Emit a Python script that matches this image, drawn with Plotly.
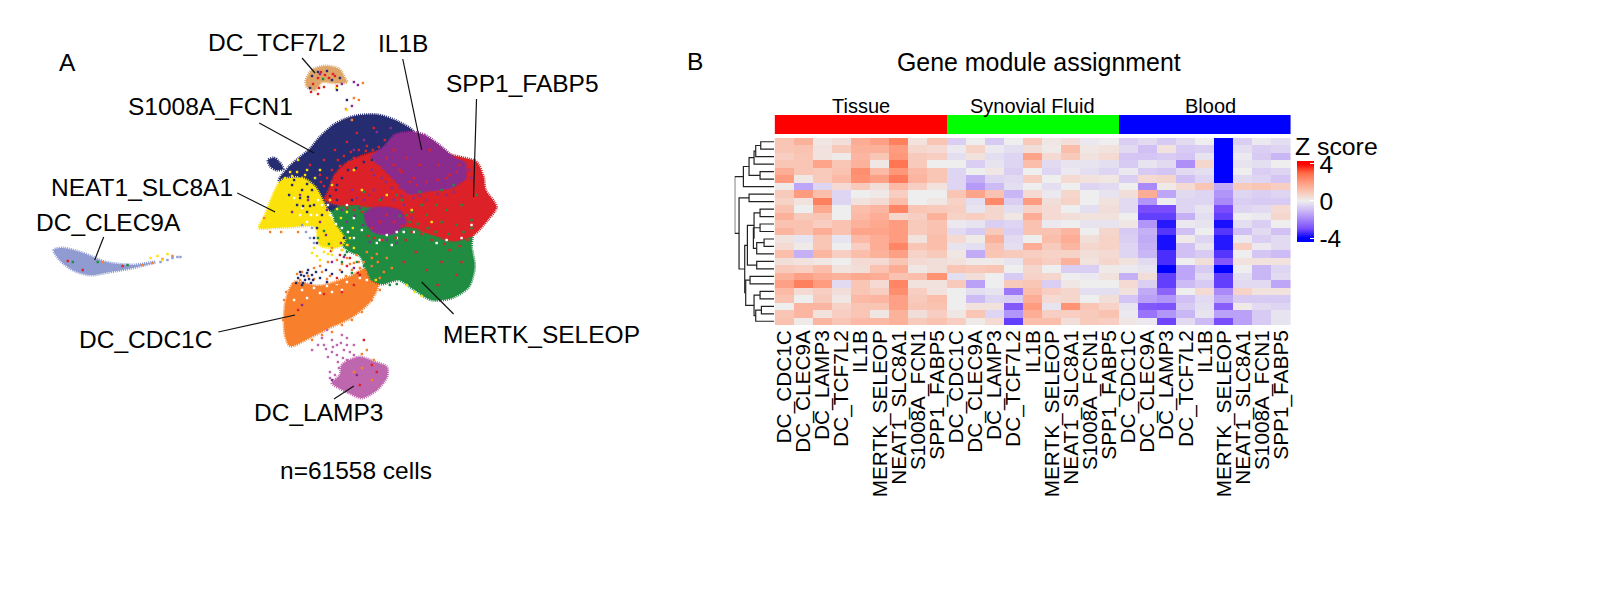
import plotly.graph_objects as go

FONT = "Liberation Sans"

# ---------- panel A: outlines of the cell clouds ----------
navy_c, purple_c, red_c, green_c = "#262C70", "#8A2C8E", "#DC2228", "#1F8C42"
yellow_c, orange_c, pink_c, lblue_c, tan_c = "#FBE20A", "#F8802D", "#BE66AE", "#8F9BD1", "#DFA567"

outline_navy = [(277,181),(287,167),(297,158),(307,150),(318,137),(333,124),(353,116),(377,115),(397,122),(412,132),(415,150),(380,170),(360,180),(345,195),(330,210),(312,205),(295,190)]
outline_navy2 = [(266,160),(272,158),(277,162),(281,169),(274,170),(268,166)]
outline_purple = [(410,132),(423,135),(440,147),(453,158),(463,163),(464,178),(450,187),(430,190),(407,193),(393,180),(380,167),(370,157),(382,147),(393,135)]
outline_red = [(327,190),(333,175),(345,163),(363,155),(385,150),(420,150),(463,158),(475,162),(482,177),(484,190),(495,207),(486,220),(473,234),(453,241),(437,237),(417,229),(397,224),(393,210),(373,208),(357,205),(337,205),(323,200)]
outline_purple2 = [(363,213),(373,208),(383,207),(397,210),(404,222),(392,233),(373,232),(365,224)]
outline_green = [(322,198),(350,195),(400,205),(470,220),(470,247),(473,267),(467,287),(450,298),(430,300),(413,290),(397,280),(380,284),(370,280),(364,268),(358,256),(347,251),(333,236),(332,217)]
outline_yellow = [(280,180),(300,178),(313,187),(322,203),(332,223),(343,240),(337,247),(318,245),(313,227),(290,227),(270,228),(257,228),(263,215),(273,190)]
outline_orange = [(293,282),(317,286),(347,277),(370,266),(378,277),(375,290),(367,303),(350,317),(327,328),(307,338),(288,346),(283,335),(282,320),(283,305),(287,290)]
outline_pink = [(330,383),(338,375),(340,365),(357,357),(373,362),(385,367),(385,377),(375,390),(360,398),(347,393),(337,388)]
outline_lblue = [(51,250),(60,248),(80,253),(103,262),(130,265),(153,262),(130,268),(107,272),(87,275),(70,270),(57,260)]
outline_tan = [(304,80),(310,70),(323,66),(337,69),(343,78),(345,82),(333,83),(320,82),(313,90),(305,87)]

# stray cells, by colour
specks_red = [(322,160),(333,150),(345,142),(355,133),(365,146),(352,158),(340,172),(330,182),(318,175),(308,165),(372,128),(383,140),(392,150),(428,150),(437,165),(445,178),(418,165),(405,158),(412,178),(398,170),(385,215),(392,222),(378,222),(370,228),(440,262),(455,275),(425,270),(436,285),(448,250),(460,262),(414,252),(402,262),(319,72),(323,75),(316,78),(327,78),(333,76),(311,84),(317,88),(322,87),(335,86),(309,92),(316,94),(331,74),(362,340),(370,365),(375,372),(358,385),(296,310),(340,292),(322,294),(352,285),(335,278),(358,275),(356,273),(345,266),(348,258),(329,251),(338,255),(80,270),(65,261),(120,266),
 (336,160),(342,156),(349,152),(357,150),(364,151),(371,150),(377,147),(330,170),(325,178),(338,166),(347,162),(322,186),(319,182),(344,175),(352,165),(385,158),(392,165),(400,172),(408,182),(415,185),(425,182),(436,180),(448,175),(455,172),(458,165),(382,190),(360,212),(352,210),(345,208),(400,226),(410,232),(420,234),(430,240),(443,244),(458,246),(466,240),(404,240),(394,238),(372,238),(380,240),(366,236)]
specks_purple = [(352,150),(362,140),(375,132),(389,128),(370,170),(384,182),(400,196),(412,198),(425,200),(445,195),(362,200),(372,190),(350,190),(340,210),(345,222),(325,210),(306,200),(298,195),(290,212),(318,222),(324,235),(342,257),(352,268),(330,262),(318,74),(340,84),(352,82),(356,85),(350,106),(300,305),(330,380),(355,375),(339,243),(368,242),(385,240),(395,243),
 (376,155),(385,160),(372,175),(380,178),(390,188),(398,188),(418,196),(436,194),(452,192),(468,170),(470,178),(355,198),(367,195),(380,198),(392,200),(402,205),(410,218),(358,208),(353,216),(361,225)]
specks_green = [(410,212),(425,215),(440,222),(455,225),(470,220),(435,205),(420,205),(400,200),(395,195),(378,200),(362,192),(445,210),(460,205),(475,195),(452,185),(440,190),(418,192),(384,244),(372,255),(362,258),(352,243),(345,252),(322,231),(316,238),(327,244),(340,262),(350,273),(368,262),(321,79),(95,262),(70,262),(125,265),
 (408,222),(416,224),(426,228),(434,232),(447,234),(462,232),(470,228),(405,215),(398,216),(378,258),(385,268),(392,272),(395,262),(343,255),(355,262),(362,266),(372,265),(380,280),(388,285),(395,284)]
specks_yellow = [(288,172),(296,160),(305,170),(318,170),(330,185),(352,170),(360,190),(385,195),(410,210),(430,222),(345,212),(336,230),(351,228),(312,248),(310,253),(315,256),(318,260),(322,252),(330,255),(413,292),(420,296),(405,285),(374,280),(334,88),(345,110),(148,258),(155,256),(165,254),(160,260),
 (290,176),(283,178),(295,172),(303,175),(313,178),(348,238),(345,245),(340,250),(330,250),(326,254),(352,248),(335,209),(328,200),(339,218)]
specks_navy = [(290,185),(300,190),(306,197),(295,205),(287,195),(305,212),(312,205),(320,215),(315,228),(298,272),(302,276),(306,270),(310,275),(296,278),(303,280),(314,272),(318,278),(324,270),(330,274),(309,283),(300,285),(325,282),(340,272),(310,76),(316,72),(325,71),(330,80),(308,88),(335,90),(345,100),(338,78),(350,200),(335,200),(342,238),(315,243),(312,238),
 (340,178),(346,170),(354,168),(362,162),(370,160),(334,190),(328,196),(335,185),(292,180),(298,176),(305,184),(310,190),(298,198),(301,206),(308,206),(299,275),(305,273),(301,283),(307,279),(294,283),(311,280)]
specks_orange = [(300,272),(306,276),(295,274),(312,268),(318,266),(326,262),(335,260),(345,258),(355,255),(365,252),(375,254),(385,258),(390,268),(382,272),(378,278),(378,290),(370,300),(360,312),(350,320),(340,325),(330,332),(320,335),(310,340),(281,320),(282,300),(284,292),(360,354),(365,350),(372,360),(360,368),(370,380),(352,372),(150,263),(160,259),(140,265),(170,256),(100,262),(340,250),(330,248),(346,245),(352,263),(262,218),(268,232),(279,232),(296,232),(352,98),(357,100),(344,109),(350,120),(361,83),
 (320,272),(328,276),(338,270),(344,276),(350,270),(358,268),(364,272),(370,266),(376,262),(370,258),(362,262),(355,275),(312,279),(306,285),(298,280),(291,284),(335,283),(325,279),(357,262),(348,264),(340,264)]
specks_pink = [(325,330),(330,340),(335,345),(340,335),(345,338),(352,345),(342,350),(330,352),(322,345),(326,357),(345,360),(337,368),(333,375),(328,372),(316,345),(310,350),(320,338),(352,355),(348,352),(345,345),
 (336,362),(341,358),(335,355),(331,347),(339,343),(324,349),(348,363),(343,372),(335,381),(328,378)]
specks_lblue = [(170,258),(175,257),(178,257),(165,260),(158,262),(300,225),(308,238),(312,243),(304,232),(310,228)]
specks_white = [(300,290),(312,288),(325,286),(335,284),(345,282),(318,293),(330,292),(340,290),(358,278),(365,280),(292,300),(305,298),(395,232),(385,235),(378,240),(390,245),(412,232),(360,230),(352,218),(345,205),(320,205),(300,208),(292,198),(305,222),(315,215),(470,225),(460,238),(445,240),(435,243),
 (328,215),(334,224),(326,205),(316,200),(309,215),(298,215),(340,228),(346,232),(395,238),(402,232),(375,243),(352,238)]

labels_a = ["A","DC_TCF7L2","IL1B","SPP1_FABP5","S1008A_FCN1","NEAT1_SLC8A1","DC_CLEC9A","DC_CDC1C","MERTK_SELEOP","DC_LAMP3","n=61558 cells"]
labels_a_x = [65,275,401,521,208,139,106,143,540,316,354]
labels_a_y = [62,42,43,83,106,187,222,339,334,412,470]
leaders = [((300,58),(313,73)),((401,59),(420,150)),((475,99),(472,197)),((257,123),(312,153)),((235,193),(273,212)),((101,237),(92,260)),((216,332),(293,315)),((420,282),(452,314)),((332,399),(352,386))]

# ---------- panel B ----------
genes = ["DC_CDC1C","DC_CLEC9A","DC_LAMP3","DC_TCF7L2","IL1B","MERTK_SELEOP","NEAT1_SLC8A1","S1008A_FCN1","SPP1_FABP5"]
groups = ["Tissue","Synovial Fluid","Blood"]
group_label_x = [4, 13, 22.3]
group_colors = ["#FF0000","#00FF00","#0000FF"]

z_tissue = [
 [1.0,1.5,0.2,0.4,1.6,1.9,2.6,0.3,1.0],[1.0,1.1,0.3,0.9,1.5,1.5,2.0,0.6,0.5],[0.8,1.0,0.3,0.1,1.4,1.0,2.1,0.9,0.8],
 [1.0,1.0,1.8,1.0,1.5,0.2,2.8,0.9,0.0],[1.6,1.0,0.9,1.1,2.3,1.3,2.1,1.3,1.0],[2.0,0.2,0.9,1.3,2.2,1.9,2.7,1.4,1.0],
 [0.1,-1.4,-0.5,0.5,0.9,0.4,1.3,0.8,0.3],[0.9,2.0,1.2,-0.5,0.0,0.1,0.8,0.0,0.0],[0.7,0.3,2.6,-0.5,0.3,0.5,1.2,0.0,0.2],
 [1.1,0.0,1.7,0.0,1.2,1.4,2.5,1.0,0.9],[1.5,0.9,1.0,0.0,1.3,1.6,0.6,0.8,1.5],[1.1,1.1,0.8,1.1,1.5,1.7,2.0,0.9,1.1],
 [1.4,1.1,1.6,1.1,1.8,1.8,2.0,0.9,1.1],[0.3,-0.2,1.0,-0.2,1.3,1.6,2.0,0.3,1.2],[0.5,0.1,1.0,0.0,0.8,1.6,2.5,1.0,1.2],
 [1.2,-1.2,1.4,0.8,1.2,1.5,1.9,0.7,0.9],[0.4,0.3,0.2,0.0,0.5,0.5,1.0,0.5,0.4],[0.9,0.8,1.2,0.3,0.4,1.1,1.6,0.2,0.4],
 [1.5,1.9,1.6,1.5,1.7,1.6,1.1,1.2,2.2],[1.9,2.6,2.0,-0.4,1.0,0.5,2.5,0.3,0.3],[1.3,0.5,0.8,0.4,1.0,0.8,2.3,0.8,0.3],
 [1.1,0.0,0.9,0.2,1.3,1.4,1.9,0.9,1.2],[0.0,1.4,1.4,0.7,1.0,1.0,1.9,1.0,1.1],[1.0,1.4,0.3,0.8,1.0,0.2,1.5,0.4,0.8],
 [1.1,0.1,1.4,1.0,1.3,1.3,1.5,0.9,1.1]]
z_synovial = [
 [-0.6,0.0,-0.7,0.0,0.9,0.2,0.4,-0.1,0.0],[-0.1,0.7,-0.1,-0.3,0.4,0.1,1.2,0.2,0.3],[-0.3,0.3,-0.3,-0.5,1.8,0.5,0.9,0.3,0.5],
 [0.0,-0.6,-0.2,-0.5,1.2,-0.4,-0.2,-0.2,-0.3],[-0.5,0.0,0.2,-0.6,0.0,-0.5,-0.1,-0.3,-0.5],[-0.5,-1.2,-0.5,-0.4,0.8,0.0,0.5,0.3,0.2],
 [-0.5,-1.6,-1.0,-0.3,0.0,-0.3,0.0,-0.5,-0.4],[1.0,1.8,1.1,-1.1,0.5,-0.1,0.6,0.0,-0.2],[0.7,-0.3,2.4,-0.6,2.0,0.4,0.7,0.0,0.3],
 [0.8,-0.2,0.6,-0.3,0.7,0.5,0.0,-0.3,0.4],[0.7,0.8,0.6,0.2,1.6,0.5,0.4,0.3,0.3],[-0.1,-0.2,-0.6,-0.5,1.1,-0.1,0.0,-0.2,-0.2],
 [-0.4,-0.7,0.9,-0.6,1.1,1.1,1.4,0.0,0.6],[0.5,0.1,1.5,-0.4,0.0,1.2,1.6,0.4,0.7],[-0.2,-0.3,1.1,-0.3,1.6,0.9,1.4,0.6,0.7],
 [0.2,-1.3,1.0,0.9,0.8,0.7,0.7,0.4,0.5],[0.3,0.1,0.1,-0.2,1.0,0.8,1.5,0.3,0.6],[1.0,0.9,1.0,0.0,0.6,0.0,-0.6,-0.6,0.1],
 [-0.3,0.4,0.0,-0.7,0.7,0.6,0.0,-0.1,0.3],[0.9,-1.5,0.0,0.9,1.0,-0.6,0.2,0.0,0.0],[0.0,-0.3,-0.2,-2.2,1.2,0.8,0.6,-0.3,-0.3],
 [0.0,-1.0,-0.5,-0.6,1.6,0.5,0.6,0.0,0.4],[0.0,0.3,0.3,-2.8,2.0,-0.2,2.2,1.0,0.7],[0.2,1.0,-0.5,-1.7,1.6,0.8,0.8,0.9,1.1],
 [0.8,0.1,0.5,-3.2,1.2,1.2,0.4,0.9,0.8]]
z_blood = [
 [-0.6,-0.4,-0.7,-0.4,0.0,-4.0,-0.6,-0.1,-0.3],[-0.4,-0.9,0.3,-0.7,-0.6,-4.0,-0.3,-0.6,-0.5],[-0.8,-0.8,-0.7,-0.8,-0.2,-4.0,-0.1,-0.7,-1.1],
 [-0.7,-0.2,-0.4,-1.8,0.6,-4.0,-0.2,-0.3,0.0],[-0.1,-0.7,-0.8,-0.4,-0.3,-4.0,0.0,-0.6,-0.5],[-0.6,0.5,0.6,-0.9,-0.5,-4.0,-0.4,-0.5,-0.8],
 [0.0,-1.9,0.1,0.5,1.0,-1.3,0.9,1.0,0.8],[0.4,1.6,-1.4,-0.4,-0.5,-1.7,-0.5,-0.6,-0.5],[-0.4,-1.7,0.0,-0.5,-0.5,-1.9,-0.6,-0.7,-0.7],
 [-0.4,-3.0,-3.0,-0.5,-0.2,-3.0,-0.5,-0.4,0.5],[0.0,-3.2,-3.2,-1.2,-0.3,-3.2,0.0,-0.1,0.6],[0.2,-1.7,-3.7,-0.1,-0.2,-3.8,-0.3,-0.6,0.0],
 [-0.7,-1.2,-3.3,-0.9,0.0,-3.3,-0.9,-0.4,-0.9],[-0.6,-1.3,-3.8,0.1,-0.5,-3.7,-0.1,-0.6,-0.4],[-0.5,-1.2,-3.8,-0.9,-0.2,-3.7,0.8,-0.1,-0.4],
 [-0.5,-1.1,-3.4,-0.9,-0.7,-3.3,0.0,-0.8,-1.0],[0.3,-0.4,-3.4,0.0,0.4,-2.8,0.3,0.3,0.3],[-0.1,-0.2,-4.0,-1.4,-0.7,-4.0,0.0,-1.1,-0.5],
 [-1.2,0.4,-3.2,-1.4,-0.4,-3.2,-0.3,-1.1,-0.4],[0.5,-0.6,-3.2,-1.0,-0.7,-3.2,-0.4,-0.4,-1.4],[0.3,-1.3,-2.6,0.0,0.5,-1.9,0.7,0.3,0.3],
 [-0.8,-1.5,-1.7,-0.9,-0.4,-1.4,-0.7,-0.7,-0.7],[-0.2,-2.8,-2.9,-0.7,-0.3,-2.7,0.1,-0.4,-0.5],[-0.1,-2.3,-1.7,-1.1,-0.2,-1.5,-1.5,-0.7,-0.2],
 [0.2,-0.1,-3.1,-0.4,-1.0,-3.0,-1.5,-0.7,-0.2]]

# dendrogram: (merge height, child, child); integers are leaf rows
tree = (118,
  (92, (75, (60, (55, (40, 0, 1), 2), 3), (42, 4, 5)), 6),
  (105, (75, 7, 8),
    (88,
      (80, (60, (42, 9, 10), (62, (42, 11, 12), (52, (30, 13, 14), 15))), (52, 16, 17)),
      (85, (72, 18, 19), (60, (42, 20, 21), (55, (38, 22, 23), 24))))))

scale_z = [-4, -3, -2, -1, 0, 1, 2, 3, 4]
scale_col = ["#0000FF", "#7A4DFC", "#A684F9", "#CDBBF5", "#EEEEEE", "#F9C6B6", "#FF9C7F", "#FF6D48", "#FF0000"]
cbar_min, cbar_max = -4.43, 4.32

# ---------- figure ----------
fig = go.Figure()

def poly(pts, col):
    xs = [p[0] for p in pts] + [pts[0][0]]
    ys = [p[1] for p in pts] + [pts[0][1]]
    fig.add_trace(go.Scatter(x=xs, y=ys, mode="lines", fill="toself", fillcolor=col,
                             line=dict(color=col, width=3, dash="1px,1px", shape="spline", smoothing=0.8),
                             hoverinfo="skip", showlegend=False))

for pts, col in [(outline_lblue, lblue_c), (outline_tan, tan_c), (outline_pink, pink_c), (outline_orange, orange_c),
                 (outline_green, green_c), (outline_navy, navy_c), (outline_red, red_c), (outline_purple, purple_c),
                 (outline_navy2, navy_c), (outline_purple2, purple_c), (outline_yellow, yellow_c)]:
    poly(pts, col)

for pts, col in [(specks_white, "#FFFFFF"), (specks_orange, orange_c), (specks_pink, pink_c), (specks_lblue, lblue_c),
                 (specks_green, green_c), (specks_purple, purple_c), (specks_red, red_c),
                 (specks_yellow, yellow_c), (specks_navy, navy_c)]:
    fig.add_trace(go.Scatter(x=[p[0] for p in pts], y=[p[1] for p in pts], mode="markers",
                             marker=dict(color=col, size=2.4, symbol="square", line=dict(width=0)),
                             hoverinfo="skip", showlegend=False))

lx, ly = [], []
for a, b in leaders:
    lx += [a[0], b[0], None]
    ly += [a[1], b[1], None]
fig.add_trace(go.Scatter(x=lx, y=ly, mode="lines", line=dict(color="#111111", width=1.2),
                         hoverinfo="skip", showlegend=False))

# heatmap
z_all = [t + s + b for t, s, b in zip(z_tissue, z_synovial, z_blood)]
span = cbar_max - cbar_min
stops = [[0, scale_col[0]]] + [[(v - cbar_min) / span, c] for v, c in zip(scale_z, scale_col)] + [[1, scale_col[-1]]]
fig.add_trace(go.Heatmap(z=z_all, x=list(range(27)), y=list(range(25)), xaxis="x2", yaxis="y2",
    zmin=cbar_min, zmax=cbar_max, colorscale=stops, hoverinfo="skip",
    colorbar=dict(x=1298/1600, xanchor="left", y=(600-161)/600, yanchor="top", len=81/600, lenmode="fraction",
                  thickness=17, thicknessmode="pixels", outlinewidth=0, xpad=0, ypad=0,
                  tickvals=[4, 0, -4], ticktext=["4", "0", "-4"], ticks="inside", ticklen=4, tickcolor="#FFFFFF",
                  tickfont=dict(family=FONT, size=24.5, color="#000000"))))

# group annotation bar
fig.add_trace(go.Heatmap(z=[[0]*9 + [1]*9 + [2]*9], x=list(range(27)), y=[0], xaxis="x3", yaxis="y3",
    zmin=0, zmax=2, showscale=False, hoverinfo="skip",
    colorscale=[[0, group_colors[0]], [0.33, group_colors[0]], [0.33, group_colors[1]],
                [0.66, group_colors[1]], [0.66, group_colors[2]], [1, group_colors[2]]]))

# dendrogram
dx, dy = [], []
def walk(node):
    if isinstance(node, int):
        return node, 0
    h, a, b = node
    pa, ha = walk(a)
    pb, hb = walk(b)
    dx.extend([ha, h, h, hb, None])
    dy.extend([pa, pa, pb, pb, None])
    return (pa + pb) / 2, h
walk(tree)
fig.add_trace(go.Scatter(x=dx, y=dy, mode="lines", xaxis="x4", yaxis="y4",
                         line=dict(color="#222222", width=1.2), hoverinfo="skip", showlegend=False))

annos = [dict(text=t, x=x, y=y, xref="x", yref="y", showarrow=False, xanchor="center", yanchor="middle",
              font=dict(family=FONT, size=24.5, color="#000000"))
         for t, x, y in zip(labels_a, labels_a_x, labels_a_y)]
for g, gx in zip(groups, group_label_x):
    annos.append(dict(text=g, x=gx, y=1, xref="x3", yref="y3 domain", yanchor="bottom", yshift=-4,
                      showarrow=False, font=dict(family=FONT, size=20, color="#000000")))
for t, px, py, fs in [("B", 694, 62, 24.5), ("Gene module assignment", 1039, 62, 24.9), ("Z score", 1338, 146, 24.8)]:
    annos.append(dict(text=t, x=px/1600, y=1 - py/600, xref="paper", yref="paper", showarrow=False,
                      xanchor="center", yanchor="middle", font=dict(family=FONT, size=fs, color="#000000")))

hidden = dict(visible=False, showgrid=False, zeroline=False, fixedrange=True)
fig.update_layout(
    width=1600, height=600, margin=dict(l=0, r=0, t=0, b=0),
    paper_bgcolor="#FFFFFF", plot_bgcolor="rgba(0,0,0,0)", showlegend=False, annotations=annos,
    xaxis=dict(domain=[0, 0.4], range=[0, 640], **hidden),
    yaxis=dict(domain=[0, 1], range=[600, 0], **hidden),
    xaxis2=dict(domain=[774/1600, 1292/1600], range=[-0.5, 26.5], anchor="y2", tickmode="array",
                tickvals=list(range(27)), ticktext=genes * 3, tickangle=-90, ticks="", showgrid=False, zeroline=False,
                tickfont=dict(family=FONT, size=20.8, color="#000000")),
    yaxis2=dict(domain=[(600-325)/600, (600-138)/600], range=[24.5, -0.5], anchor="x2", **hidden),
    xaxis3=dict(domain=[774/1600, 1292/1600], range=[-0.5, 26.5], anchor="y3", **hidden),
    yaxis3=dict(domain=[(600-134)/600, (600-115)/600], range=[-0.5, 0.5], anchor="x3", **hidden),
    xaxis4=dict(domain=[734/1600, 773.5/1600], range=[118, 0], anchor="y4", **hidden),
    yaxis4=dict(domain=[(600-325)/600, (600-138)/600], range=[24.5, -0.5], anchor="x4", **hidden),
)
fig.write_html("out.html", config=dict(displayModeBar=False), post_script="document.body.style.margin='0';")
